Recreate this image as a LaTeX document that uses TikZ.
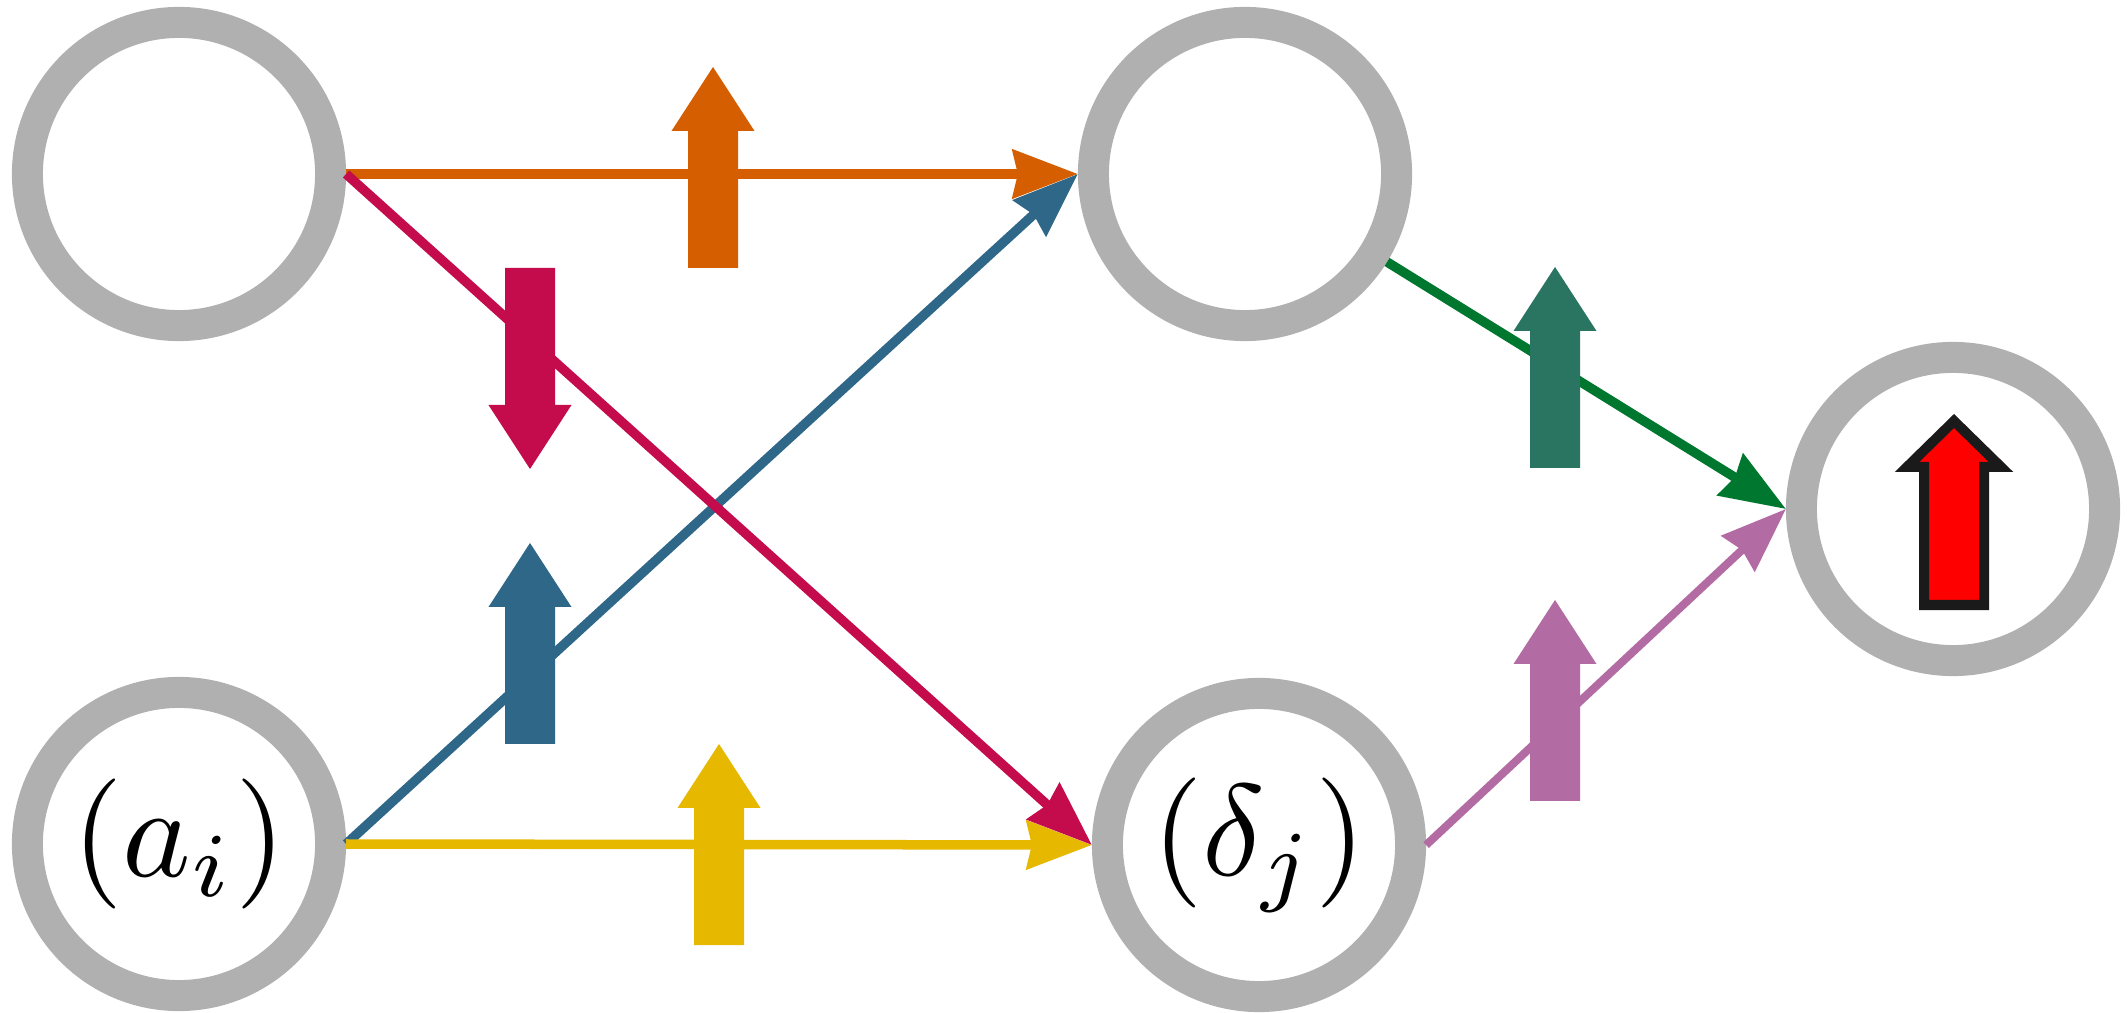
\documentclass[tikz,border=0pt]{standalone}
\usetikzlibrary{arrows.meta}
\definecolor{ringgray}{RGB}{176,176,176}
\definecolor{cOrange}{RGB}{213,94,0}
\definecolor{cBlue}{RGB}{46,103,135}
\definecolor{cCrimson}{RGB}{196,12,76}
\definecolor{cYellow}{RGB}{230,184,0}
\definecolor{cGreen}{RGB}{0,119,46}
\definecolor{cTeal}{RGB}{42,117,97}
\definecolor{cMauve}{RGB}{179,107,163}
\definecolor{cOutline}{RGB}{26,26,26}
\begin{document}
\begin{tikzpicture}[x=0.01cm,y=-0.01cm,
  neuron/.style={circle, draw=ringgray, line width=0.31cm, minimum size=3.03cm, inner sep=0pt, fill=white},
  conn/.style={line width=0.095cm, -{Stealth[length=0.65cm,width=0.48cm,inset=0.05cm]}},
  lbl/.style={scale=3.7, inner sep=0pt},
  blockup/.pic={\path[pic actions] (-25,0) -- (25,0) -- (25,-137) -- (41.5,-137) -- (0,-201) -- (-41.5,-137) -- (-25,-137) -- cycle;}
]
\fill[white] (0,0) rectangle (2127,1013);
\useasboundingbox (0,0) rectangle (2127,1013);

\node[neuron] (tl) at (179,174) {};
\node[neuron] (bl) at (179,844) {};
\node[neuron] (tm) at (1245,174) {};
\node[neuron] (bm) at (1259,845) {};
\node[neuron] (out) at (1953,509) {};

\node[lbl] (ta) at (bl) {$(a_i)$};
\node[lbl] (td) at (bm) {$(\delta_j)$};

\draw[conn, cOrange] (tl.east) -- (tm.west);
\draw[conn, cBlue] (bl.east) -- (tm.west);
\draw[conn, cYellow] (bl.east) -- (bm.west);
\draw[conn, cCrimson] (tl.east) -- (bm.west);
\draw[conn, cGreen] (tm) -- (out.west);
\draw[conn, cMauve, line width=0.08cm] (bm.east) -- (out.west);

\pic[fill=cOrange] at (713,268) {blockup};
\pic[fill=cCrimson, rotate=180] at (530,268) {blockup};
\pic[fill=cBlue] at (530,744) {blockup};
\pic[fill=cYellow] at (719,945) {blockup};
\pic[fill=cTeal] at (1555,468) {blockup};
\pic[fill=cMauve] at (1555,801) {blockup};

\filldraw[fill=red, draw=cOutline, line width=0.1cm, miter limit=10]
  (1954,421) -- (2001,467) -- (1984,467) -- (1984,605) -- (1924,605)
  -- (1924,467) -- (1907,467) -- cycle;
\end{tikzpicture}
\end{document}
